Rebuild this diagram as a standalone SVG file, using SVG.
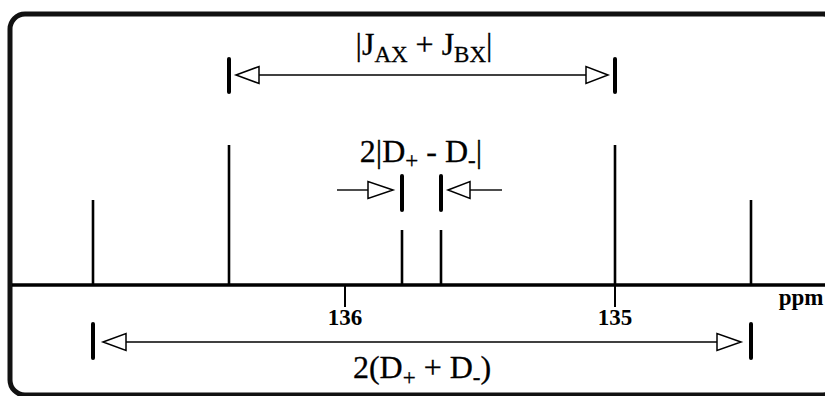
<svg xmlns="http://www.w3.org/2000/svg" width="825" height="396" viewBox="0 0 825 396">
<style>
.frame{fill:none;stroke:#111;stroke-width:5}
.axis{stroke:#000;stroke-width:3.5;fill:none}
.peak{stroke:#000;stroke-width:2.6;fill:none}
.tick{stroke:#000;stroke-width:2;fill:none}
.bar{stroke:#000;stroke-width:4;fill:none;stroke-linecap:round}
.dim{stroke:#000;stroke-width:1.4;fill:none}
.head{fill:#fff;stroke:#000;stroke-width:1.5;stroke-linejoin:miter}
.lbl{font-family:"Liberation Serif","Times New Roman",serif;fill:#000;text-anchor:middle;stroke:#000;stroke-width:0.3}
.num{font-family:"Liberation Serif","Times New Roman",serif;font-weight:bold;fill:#000;text-anchor:middle;font-size:23px}
.sub{font-size:23px}
</style>
<rect class="frame" x="10" y="14" width="828" height="381" rx="15" ry="15"/>
<g id="axis">
<line class="axis" x1="12" y1="285" x2="825" y2="285"/>
<line class="tick" x1="345" y1="285" x2="345" y2="307"/>
<line class="tick" x1="615" y1="285" x2="615" y2="307"/>
<text class="num" x="345" y="325">136</text>
<text class="num" x="615" y="325">135</text>
<text class="num" x="801" y="305" font-size="24">ppm</text>
</g>
<g id="peaks">
<line class="peak" x1="93" y1="200" x2="93" y2="285"/>
<line class="peak" x1="229" y1="145" x2="229" y2="285"/>
<line class="peak" x1="402" y1="230" x2="402" y2="285"/>
<line class="peak" x1="441" y1="230" x2="441" y2="285"/>
<line class="peak" x1="615" y1="145" x2="615" y2="285"/>
<line class="peak" x1="751" y1="200" x2="751" y2="285"/>
</g>
<g id="connectors">
<g id="dim-top">
<line class="bar" x1="229" y1="59" x2="229" y2="92"/>
<line class="bar" x1="615" y1="59" x2="615" y2="92"/>
<line class="dim" x1="259" y1="75" x2="586" y2="75"/>
<polygon class="head" points="236,75 259,66.5 259,83.5"/>
<polygon class="head" points="608,75 586,66.5 586,83.5"/>
</g>
<g id="dim-mid">
<line class="bar" x1="402" y1="176" x2="402" y2="210"/>
<line class="bar" x1="441" y1="176" x2="441" y2="210"/>
<line class="dim" x1="337" y1="190" x2="368" y2="190"/>
<polygon class="head" points="393,190 368,181.5 368,198.5"/>
<line class="dim" x1="470" y1="190" x2="502" y2="190"/>
<polygon class="head" points="448,190 470,181.5 470,198.5"/>
</g>
<g id="dim-bottom">
<line class="bar" x1="93" y1="324" x2="93" y2="358"/>
<line class="bar" x1="751" y1="324" x2="751" y2="358"/>
<line class="dim" x1="126" y1="342" x2="717" y2="342"/>
<polygon class="head" points="103,342 126,333.5 126,350.5"/>
<polygon class="head" points="741,342 717,333.5 717,350.5"/>
</g>
</g>
<g id="labels">
<text class="lbl" x="424" y="55" font-size="32">|J<tspan class="sub" dy="7">AX</tspan><tspan dy="-7"> + J</tspan><tspan class="sub" dy="7">BX</tspan><tspan dy="-7">|</tspan></text>
<text class="lbl" x="421" y="162" font-size="32">2|D<tspan class="sub" dy="6">+</tspan><tspan dy="-6"> - D</tspan><tspan class="sub" dy="6">-</tspan><tspan dy="-6">|</tspan></text>
<text class="lbl" x="422" y="378" font-size="32">2(D<tspan class="sub" dy="7">+</tspan><tspan dy="-7"> + D</tspan><tspan class="sub" dy="7">-</tspan><tspan dy="-7">)</tspan></text>
</g>
</svg>
